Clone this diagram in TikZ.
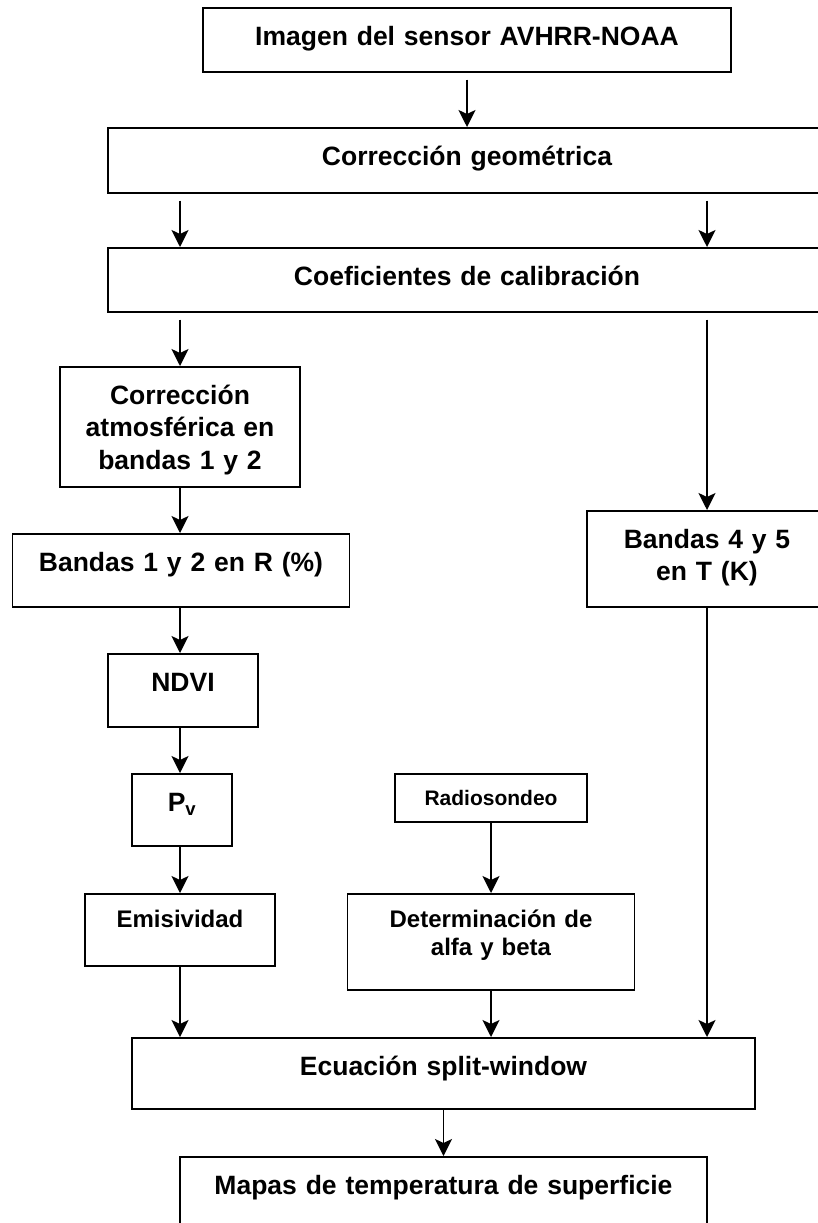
\documentclass[tikz,border=0pt]{standalone}
\usepackage{fontspec}
\setmainfont{Liberation Sans}
\usetikzlibrary{arrows.meta}

\tikzset{
  box/.style={draw, line width=1.6pt, align=center, inner xsep=0pt, inner ysep=0pt,
    anchor=north, font=\bfseries\fontsize{26.5}{32.5}\selectfont, text height=37.5pt},
  smallbox/.style={box, font=\bfseries\fontsize{24}{28}\selectfont, text height=33.5pt},
  tinybox/.style={box, font=\bfseries\fontsize{21}{25}\selectfont, text height=31.5pt},
  arr/.style={line width=1.7pt, -{Stealth[length=17pt,width=17pt,inset=4pt]}},
  gap/.style={shorten <=7pt}
}

\begin{document}
\begin{tikzpicture}[x=1pt,y=-1pt]
\useasboundingbox (0,0) rectangle (818,1223);
% boxes
\node[box, text width=528pt, text depth=26.5pt] (img) at (467,7) {Imagen del sensor AVHRR-NOAA};
\node[box, text width=718pt, text depth=27.5pt] (geo) at (467,127) {Corrección geométrica};
\node[box, text width=718pt, text depth=26.5pt] (cal) at (467,247) {Coeficientes de calibración};
\node[box, text width=240pt, text depth=82.5pt] (atm) at (180,366) {Corrección\\atmosférica en\\bandas 1 y 2};
\node[box, text width=337pt, text depth=35.5pt] (bR) at (181,533) {Bandas 1 y 2 en R (\%)};
\node[box, text width=240pt, text depth=58.5pt] (bT) at (707,510) {Bandas 4 y 5\\en T (K)};
\node[box, text width=150pt, text depth=35.5pt] (ndvi) at (183,653) {NDVI};
\node[box, text width=100pt, text depth=34.5pt] (pv) at (182,773) {P\textsubscript{v}};
\node[smallbox, text width=190pt, text depth=38.5pt] (emis) at (180,893) {Emisividad};
\node[tinybox, text width=192pt, text depth=16.5pt] (radio) at (491,773) {Radiosondeo};
\node[smallbox, text width=287pt, text depth=62.5pt] (alfa) at (491,893) {Determinación de\\alfa y beta};
\node[box, text width=623pt, text depth=33.5pt] (split) at (443.5,1037) {Ecuación split-window};
\node[box, text width=527pt, text depth=80pt] (maps) at (443.5,1156) {Mapas de temperatura de superficie};

% arrows
\draw[arr, gap] (img) -- (geo);
\draw[arr, gap] (geo.south -| atm) -- (cal.north -| atm);
\draw[arr, gap] (geo.south -| bT) -- (cal.north -| bT);
\draw[arr, gap] (cal.south -| atm) -- (atm);
\draw[arr, gap] (cal.south -| bT) -- (bT);
\draw[arr] (atm) -- (atm |- bR.north);
\draw[arr] (bR.south -| atm) -- (ndvi.north -| atm);
\draw[arr] (ndvi.south -| atm) -- (pv.north -| atm);
\draw[arr] (pv.south -| emis) -- (emis);
\draw[arr] (radio) -- (alfa);
\draw[arr] (emis) -- (emis |- split.north);
\draw[arr] (alfa) -- (alfa |- split.north);
\draw[arr] (bT) -- (bT |- split.north);
\draw[arr] (split) -- (maps);
\end{tikzpicture}
\end{document}
